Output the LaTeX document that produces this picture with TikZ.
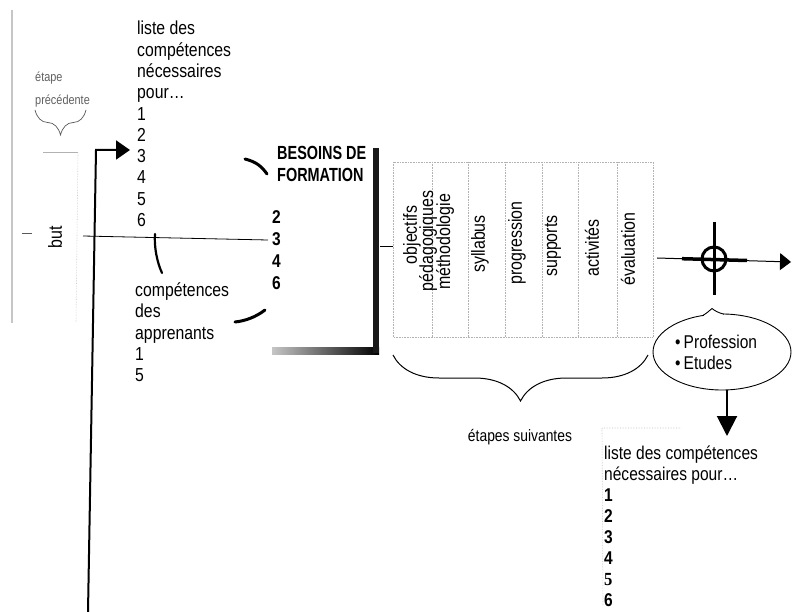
\documentclass[tikz,border=0pt]{standalone}
\usepackage{fontspec}
\setmainfont{Liberation Sans}[FakeStretch=0.84]
\newfontfamily\nserif{Liberation Serif}[FakeStretch=0.9]
\newfontfamily\cbold{Liberation Sans}[FakeStretch=0.76]
\usetikzlibrary{arrows.meta,decorations.pathreplacing,shapes.geometric,calc}
\begin{document}
\begin{tikzpicture}[x=1pt,y=-1pt,
  lab/.style={font=\fontsize{18.8}{21.3}\selectfont, inner sep=0pt, align=left, anchor=north west},
  blab/.style={font=\cbold\bfseries\fontsize{19}{22}\selectfont, inner sep=0pt, align=left, anchor=north west},
  vlab/.style={font=\fontsize{19}{20}\selectfont, inner sep=0pt, rotate=90},
  glab/.style={font=\fontsize{13}{23}\selectfont, text=gray!75!black, inner sep=0pt, align=left, anchor=north west},
  faint/.style={gray!45, line width=0.9pt},
  dots/.style={gray!60, densely dotted, line width=0.6pt},
  arcline/.style={line width=3pt, line cap=round}]
\useasboundingbox (0,0) rectangle (795,612);
\fill[white] (0,0) rectangle (795,612);

% page edge / previous step frame (faint)
\coordinate (edgeT) at (12,10);
\coordinate (edgeB) at (12,323);
\draw[faint, line width=1.4pt] (edgeT) -- (edgeB);
\coordinate (prevA) at (43,152);
\coordinate (prevB) at (78,152);
\coordinate (prevC) at (76,323);
\draw[gray!60, line width=0.8pt] (prevA) -- (prevB);
\draw[dots, gray!40] (prevB) -- (prevC);

% etape precedente
\node[glab] (prev) at (35,71.5) {étape\\précédente};
\coordinate (brR) at (86,110);
\coordinate (brL) at (35,110);
\draw[gray!70!black, line width=0.7pt, decorate, decoration={brace, amplitude=25pt}] (brR) -- (brL);

% but
\coordinate (tickA) at (22,233.5);
\coordinate (tickB) at (32,233.5);
\draw[gray!70!black, line width=0.9pt] (tickA) -- (tickB);
\node[vlab] (but) at (55,237) {but};

% horizontal "but" line
\coordinate (butL) at (83,236);
\coordinate (butR) at (268,240);
\draw[line width=0.8pt] (butL) -- (butR);

% big arrow from bottom
\coordinate (arrB) at (88,612);
\coordinate (arrE) at (96,150);
\coordinate (arrT) at (130,150);
\draw[line width=2pt, -{Triangle[length=14pt,width=19pt]}] (arrB) -- (arrE) -- (arrT);

% left lists
\node[lab] (need) at (137,21) {liste des\\compétences\\nécessaires\\pour…\\1\\2\\3\\4\\5\\6};
\node[lab] (learn) at (135,282.5) {compétences\\des\\apprenants\\1\\5};

% arcs
\coordinate (a1s) at (245,159);
\coordinate (a1e) at (267,174);
\draw[arcline] (a1s) .. controls (257,162) and (262,167) .. (a1e);
\coordinate (a2s) at (155,234);
\coordinate (a2e) at (162,273);
\draw[arcline, line width=2.2pt] (a2s) .. controls (154,247) and (157,262) .. (a2e);
\coordinate (a3s) at (235,322);
\coordinate (a3e) at (265,310);
\draw[arcline] (a3s) .. controls (245,321) and (256,317) .. (a3e);

% besoins de formation
\node[blab] (besoins) at (277,146) {BESOINS DE\\FORMATION};
\node[blab, font=\bfseries\fontsize{18.5}{22}\selectfont] (nums) at (272,210.4) {2\\3\\4\\6};

% thick bracket
\coordinate (bkT) at (376,148);
\coordinate (bkB) at (376,353);
\shade[left color=gray!45, right color=black] (272,347) rectangle (379,354);
\draw[line width=6pt, black!90] (bkT) -- (bkB);
\coordinate (linkA) at (380,246);
\coordinate (linkB) at (393,246);
\draw[line width=0.8pt] (linkA) -- (linkB);

% table of steps
\coordinate (tabNW) at (393,162);
\coordinate (tabSE) at (653,337);
\draw[dots] (tabNW) rectangle (tabSE);
\foreach \cx in {432,468,505,542,578,617} {
  \draw[dots] (\cx,162) -- (\cx,337);
}
\node[vlab] (c1) at (412,235) {objectifs};
\node[vlab] (c1b) at (428,241) {pédagogiques};
\node[vlab] (c2) at (445,242) {méthodologie};
\node[vlab] (c3) at (480,244) {syllabus};
\node[vlab] (c4) at (517,243) {progression};
\node[vlab] (c5) at (553,246) {supports};
\node[vlab] (c6) at (592,248) {activités};
\node[vlab] (c7) at (628,249) {évaluation};

% brace under table
\coordinate (bsR) at (648,355);
\coordinate (bsL) at (393,355);
\draw[line width=1pt, decorate, decoration={brace, amplitude=46pt}] (bsR) -- (bsL);
\node[font=\fontsize{16.5}{18}\selectfont, inner sep=0pt] (suiv) at (520,437) {étapes suivantes};

% target
\node[circle, draw, line width=3pt, minimum size=24pt, inner sep=0pt] (target) at (714,259) {};
\coordinate (tgN) at (714,222);
\coordinate (tgS) at (714,295);
\draw[line width=3pt] (tgN) -- (tgS);
\coordinate (hL) at (657,258);
\coordinate (hR) at (791,262);
\draw[line width=1pt, -{Triangle[length=11pt,width=17pt]}] (hL) -- (hR);
\coordinate (thL) at (682,258.7);
\coordinate (thR) at (747,260.5);
\draw[line width=3.5pt] (thL) -- (thR);

% callout bubble
\node[ellipse, draw, line width=0.9pt, minimum width=138pt, minimum height=76pt, inner sep=0pt] (bubble) at (722,352) {};
\fill[white] (704,311) rectangle (723,318);
\draw[line width=0.9pt] (703,315.4) .. controls (707,313) and (709,311) .. (712,308.5) .. controls (715,311) and (719,313) .. (724,314.2);
\node[lab, font=\fontsize{18.5}{20.5}\selectfont] (bubtext) at (675,335) {\textbullet\,Profession\\\textbullet\,Etudes};

% arrow down
\coordinate (dnA) at ($(bubble.south)+(5,0)$);
\coordinate (dnB) at (727,436);
\draw[line width=2pt, -{Triangle[length=20pt,width=20pt]}] (dnA) -- (dnB);

% final list with faint box edges
\coordinate (fbL) at (602,428);
\coordinate (fbR) at (680,428);
\coordinate (fbB) at (603,605);
\draw[dots, gray!45] (fbR) -- (fbL) -- (fbB);
\node[lab, font=\fontsize{18.5}{21}\selectfont] (final) at (604,446) {liste des compétences\\nécessaires pour…\\\textbf{1}\\\textbf{2}\\\textbf{3}\\\textbf{4}\\{\nserif\bfseries 5}\\\textbf{6}};
\end{tikzpicture}
\end{document}
